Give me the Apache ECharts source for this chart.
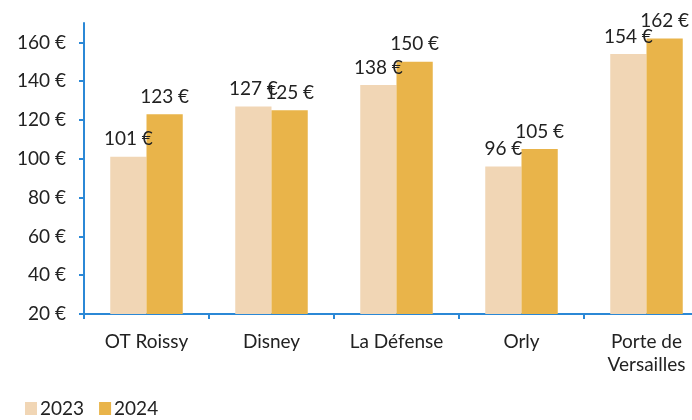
<!DOCTYPE html>
<html lang="fr">
	<head>
		<meta charset="utf-8" />
		<title>Prix moyen</title>
	</head>
	<body>
		<div id="chart-container"></div>
		<script src="https://cdn.jsdelivr.net/npm/echarts@6/dist/echarts.min.js"></script>
	</body>
	<style>
		* {
			margin: 0;
			padding: 0;
		}

		#chart-container {
			position: relative;
			width: 692px;
			height: 420px;
			overflow: hidden;
		}
	</style>
	<script>
		var categories = ["OT Roissy", "Disney", "La Défense", "Orly", "Porte de\nVersailles"];
		var values2023 = [101, 127, 138, 96, 154];
		var values2024 = [123, 125, 150, 105, 162];
		var yTicks = [20, 40, 60, 80, 100, 120, 140, 160];

		var dom = document.getElementById("chart-container");
		var myChart = echarts.init(dom, null, { renderer: "canvas" });

		var axisBlue = "#2B88D6";
		var textColor = "#222222";
		var font = "Lato, 'Noto Sans', sans-serif";

		var barLabel = {
			show: true,
			position: "top",
			distance: 8,
			color: textColor,
			fontSize: 19,
			fontFamily: font,
			formatter: "{c} €",
		};

		var option = {
			animation: false,
			textStyle: { fontFamily: font },
			grid: {
				left: 84,
				width: 625,
				top: 23,
				bottom: 106,
				outerBoundsMode: "none",
			},
			legend: {
				left: 20,
				bottom: -3,
				itemWidth: 12,
				itemHeight: 13,
				itemGap: 15,
				icon: "rect",
				textStyle: { color: textColor, fontSize: 19, fontFamily: font, padding: [0, 0, 0, -2] },
				data: ["2023", "2024"],
			},
			xAxis: {
				type: "category",
				data: categories,
				axisLine: { lineStyle: { color: axisBlue, width: 2 } },
				axisTick: { show: true, length: 5, lineStyle: { color: axisBlue, width: 2 } },
				axisLabel: {
					color: textColor,
					fontSize: 19,
					fontFamily: font,
					margin: 16,
					lineHeight: 23,
					interval: 0,
				},
			},
			yAxis: {
				type: "value",
				min: 20,
				max: 170,
				interval: 10,
				splitLine: { show: false },
				axisLine: { show: true, lineStyle: { color: axisBlue, width: 2 } },
				axisTick: {
					show: true,
					length: 5,
					lineStyle: { color: axisBlue, width: 2 },
					customValues: yTicks,
				},
				axisLabel: {
					color: textColor,
					fontSize: 19,
					fontFamily: font,
					margin: 18,
					customValues: yTicks,
					formatter: function (v) {
						return v + " €";
					},
				},
			},
			series: [
				{
					name: "2023",
					type: "bar",
					data: values2023,
					barGap: "0%",
					barCategoryGap: "42%",
					itemStyle: { color: "#F1D6B5" },
					label: barLabel,
				},
				{
					name: "2024",
					type: "bar",
					data: values2024,
					itemStyle: { color: "#E9B44A" },
					label: barLabel,
				},
			],
		};

		myChart.setOption(option);
	</script>
</html>
